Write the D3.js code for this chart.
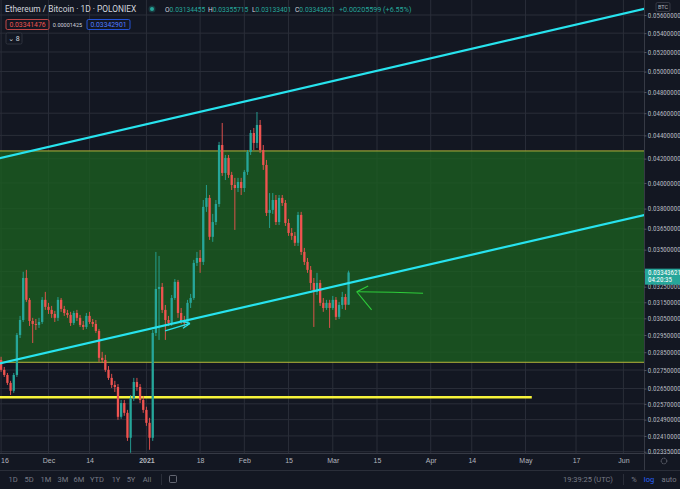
<!DOCTYPE html>
<html><head><meta charset="utf-8">
<script src="https://cdn.jsdelivr.net/npm/d3@7"></script>
<style>
html,body{margin:0;padding:0;background:#131722;overflow:hidden}
svg{display:block;font-family:Roboto,"DejaVu Sans",sans-serif}
</style></head><body>
<svg id="c" width="680" height="489"></svg>
<script>
// ---------- DATA ----------
const firstDay = "2020-11-16";   // daily candles, one per day
const opens  = [0.02806,0.02751,0.02723,0.02680,0.02638,0.02723,0.02950,0.03040,0.03307,0.03165,
0.03034,0.03016,0.03010,0.03028,0.03165,0.03121,0.03102,0.03077,0.03053,0.03165,
0.03108,0.03083,0.03071,0.03022,0.03083,0.03053,0.03010,0.02998,0.03065,0.03028,
0.03016,0.02974,0.02818,0.02806,0.02751,0.02707,0.02669,0.02658,0.02504,0.02574,
0.02524,0.02401,0.02600,0.02685,0.02658,0.02590,0.02539,0.02474,0.02401,0.02962,
0.03235,0.03248,0.03102,0.03040,0.03022,0.03177,0.03281,0.03083,0.03040,0.03022,
0.03146,0.03177,0.03408,0.03442,0.03415,0.03813,0.03882,0.03591,0.03699,0.03835,
0.04316,0.04081,0.04206,0.04065,0.03984,0.03960,0.04008,0.03960,0.04090,0.04256,
0.04421,0.04334,0.04493,0.04273,0.04147,0.03767,0.03790,0.03866,0.03699,0.03882,
0.03843,0.03692,0.03619,0.03598,0.03548,0.03752,0.03484,0.03415,0.03361,0.03274,
0.03216,0.03274,0.03146,0.03114,0.03146,0.03114,0.03165,0.03059,0.03133,0.03183,
0.03134455];
const highs  = [0.02824,0.02767,0.02734,0.02691,0.02734,0.02962,0.03065,0.03348,0.03361,0.03177,
0.03053,0.03046,0.03053,0.03183,0.03216,0.03146,0.03127,0.03096,0.03183,0.03177,
0.03127,0.03102,0.03090,0.03096,0.03102,0.03071,0.03034,0.03083,0.03090,0.03046,
0.03040,0.02986,0.02852,0.02835,0.02772,0.02729,0.02691,0.02674,0.02590,0.02590,
0.02539,0.02616,0.02707,0.02707,0.02674,0.02611,0.02555,0.02499,0.02980,0.03484,
0.03456,0.03274,0.03133,0.03065,0.03196,0.03300,0.03294,0.03114,0.03065,0.03165,
0.03203,0.03429,0.03484,0.03498,0.03866,0.03984,0.03905,0.03760,0.03866,0.04343,
0.04511,0.04231,0.04231,0.04090,0.04041,0.04041,0.04041,0.04106,0.04273,0.04448,
0.04466,0.04611,0.04538,0.04316,0.04189,0.03920,0.03920,0.03905,0.03905,0.03905,
0.03866,0.03722,0.03655,0.03626,0.03775,0.03775,0.03512,0.03442,0.03387,0.03307,
0.03341,0.03294,0.03177,0.03165,0.03165,0.03190,0.03183,0.03152,0.03216,0.03203,
0.03355715];
const lows   = [0.02740,0.02712,0.02669,0.02616,0.02627,0.02712,0.02932,0.03028,0.03152,0.03004,
0.02903,0.02980,0.02992,0.03016,0.03102,0.03077,0.03053,0.03028,0.03034,0.03090,
0.03065,0.03053,0.03004,0.03010,0.03034,0.02998,0.02980,0.02986,0.03016,0.02998,
0.02962,0.02795,0.02789,0.02740,0.02696,0.02653,0.02632,0.02489,0.02494,0.02509,
0.02386,0.02330,0.02585,0.02638,0.02574,0.02524,0.02459,0.02344,0.02386,0.02944,
0.02921,0.03083,0.02921,0.03004,0.03004,0.03165,0.03053,0.03016,0.02998,0.03004,
0.03114,0.03165,0.03387,0.03341,0.03394,0.03775,0.03569,0.03555,0.03677,0.03813,
0.04057,0.04024,0.04041,0.03944,0.03641,0.03928,0.03905,0.03928,0.04065,0.04231,
0.04273,0.04290,0.04247,0.04106,0.03744,0.03655,0.03760,0.03677,0.03677,0.03820,
0.03670,0.03598,0.03569,0.03526,0.03526,0.03463,0.03394,0.03341,0.03229,0.02998,
0.03196,0.03127,0.03090,0.03102,0.02992,0.03102,0.03040,0.03046,0.03108,0.03102,
0.03133401];
const closes = [0.02751,0.02723,0.02680,0.02638,0.02723,0.02950,0.03040,0.03307,0.03165,0.03034,
0.03016,0.03010,0.03028,0.03165,0.03121,0.03102,0.03077,0.03053,0.03165,0.03108,
0.03083,0.03071,0.03022,0.03083,0.03053,0.03010,0.02998,0.03065,0.03028,0.03016,
0.02974,0.02818,0.02806,0.02751,0.02707,0.02669,0.02658,0.02504,0.02574,0.02524,
0.02401,0.02600,0.02685,0.02658,0.02590,0.02539,0.02474,0.02401,0.02962,0.03235,
0.03248,0.03102,0.03040,0.03022,0.03177,0.03281,0.03083,0.03040,0.03022,0.03146,
0.03177,0.03408,0.03442,0.03415,0.03813,0.03882,0.03591,0.03699,0.03835,0.04316,
0.04081,0.04206,0.04065,0.03984,0.03960,0.04008,0.03960,0.04090,0.04256,0.04421,
0.04334,0.04493,0.04273,0.04147,0.03767,0.03790,0.03866,0.03699,0.03882,0.03843,
0.03692,0.03619,0.03598,0.03548,0.03752,0.03484,0.03415,0.03361,0.03274,0.03216,
0.03274,0.03146,0.03114,0.03146,0.03114,0.03165,0.03059,0.03133,0.03183,0.03134455,
0.03343621];

const timeTickDates  = ["2020-11-16","2020-12-01","2020-12-14","2021-01-01","2021-01-18","2021-02-01","2021-02-15","2021-03-01","2021-03-15","2021-04-01","2021-04-14","2021-05-01","2021-05-17","2021-06-01"];
const timeTickLabels = ["16","Dec","14","2021","18","Feb","15","Mar","15","Apr","14","May","17","Jun"];
const priceTicks = [0.056,0.054,0.052,0.050,0.048,0.046,0.044,0.042,0.040,0.038,0.0365,0.035,0.0335,0.0325,0.0315,0.0305,0.0295,0.0285,0.0275,0.0265,0.0257,0.0249,0.0241,0.02335];

// drawings (date, price)
const upperChannel = [["2020-11-16",0.04206],["2021-06-01",0.05615]];
const lowerChannel = [["2020-11-16",0.02789],["2021-06-01",0.03715]];
const zoneTop = 0.04265, zoneBottom = 0.02793;
const supportLine = [["2020-11-01",0.02604],["2021-05-03",0.02604]];
const cyanArrow = [[["2021-01-06T22:00Z",0.02974],["2021-01-14T19:00Z",0.03019]],
                   [["2021-01-14T19:00Z",0.03019],["2021-01-11T14:00Z",0.03036]],
                   [["2021-01-14T19:00Z",0.03019],["2021-01-12T14:00Z",0.02990]]];
const greenArrow = [[["2021-03-08T14:00Z",0.03217],["2021-03-20T00:00Z",0.03214],["2021-03-29T14:00Z",0.03207]],
                    [["2021-03-08T14:00Z",0.03217],["2021-03-12T05:00Z",0.03254]],
                    [["2021-03-08T14:00Z",0.03217],["2021-03-13T07:00Z",0.03102]]];

const header = {title:"Ethereum / Bitcoin · 1D · POLONIEX", O:"0.03134455", H:"0.03355715", L:"0.03133401", C:"0.03343621", chg:"+0.00205599 (+6.55%)"};
const bidAsk = ["0.03341476","0.00001425","0.03342901"];
const lastPrice = 0.03343621, countdown = "04:20:35";
const ranges = ["1D","5D","1M","3M","6M","YTD","1Y","5Y","All"];
const clock = "19:39:25 (UTC)";

// ---------- LAYOUT ----------
const W = 680, H = 489, plotR = 644, plotB = 453, barB = 470;
const UP = "#26a69a", DOWN = "#ef5350", TXT = "#b2b5be", GRID = "#2a2e39";
const NARROW = "'Liberation Sans Narrow','Roboto Condensed',Roboto,sans-serif";
const svg = d3.select("#c");
const x = d3.scaleUtc().domain([new Date("2020-11-16T00:00Z"), new Date("2021-06-01T00:00Z")]).range([1.1, 623.4]);
const y = d3.scaleLog().domain([0.056, 0.02335]).range([15, 451.7]);
const P = d => [x(new Date(d[0])), y(d[1])];

svg.append("rect").attr("width",W).attr("height",H).attr("fill","#131722");
svg.append("defs").append("clipPath").attr("id","clip").append("rect").attr("width",plotR).attr("height",plotB);
const plot = svg.append("g").attr("clip-path","url(#clip)");

// grid
plot.selectAll("line.vg").data(timeTickDates).join("line").attr("class","vg")
  .attr("x1",d=>x(new Date(d))).attr("x2",d=>x(new Date(d))).attr("y1",0).attr("y2",plotB)
  .attr("stroke",GRID).attr("stroke-width",1);
plot.selectAll("line.hg").data(priceTicks).join("line").attr("class","hg")
  .attr("x1",0).attr("x2",plotR).attr("y1",d=>y(d)).attr("y2",d=>y(d))
  .attr("stroke",GRID).attr("stroke-width",1);

// green zone
plot.append("rect").attr("x",-2).attr("width",plotR+4).attr("y",y(zoneTop)).attr("height",y(zoneBottom)-y(zoneTop))
  .attr("fill","#1b5e20").attr("fill-opacity",0.8);
[zoneTop,zoneBottom].forEach(v=>plot.append("line").attr("x1",0).attr("x2",plotR).attr("y1",y(v)).attr("y2",y(v))
  .attr("stroke","#b5b43a").attr("stroke-width",1));

// support line
plot.append("line").attr("x1",P(supportLine[0])[0]).attr("x2",P(supportLine[1])[0])
  .attr("y1",P(supportLine[0])[1]).attr("y2",P(supportLine[1])[1])
  .attr("stroke","#f7f43a").attr("stroke-width",2.6);

// channel lines (extended across the pane)
function extLine(a){
  const p0=P(a[0]), p1=P(a[1]); const k=(p1[1]-p0[1])/(p1[0]-p0[0]);
  const xa=-5, xb=plotR+5;
  plot.append("line").attr("x1",xa).attr("y1",p0[1]+k*(xa-p0[0])).attr("x2",xb).attr("y2",p0[1]+k*(xb-p0[0]))
    .attr("stroke","#27e3ee").attr("stroke-width",2.2);
}

// candles
const days = d3.utcDay.range(new Date(firstDay+"T00:00Z"), d3.utcDay.offset(new Date(firstDay+"T00:00Z"), closes.length));
const candles = days.map((d,i)=>({d,o:opens[i],h:highs[i],l:lows[i],c:closes[i]}));
const cg = plot.append("g");
cg.selectAll("line").data(candles).join("line")
  .attr("x1",d=>x(d.d)).attr("x2",d=>x(d.d)).attr("y1",d=>y(d.h)).attr("y2",d=>y(d.l))
  .attr("stroke",d=>d.c>=d.o?UP:DOWN).attr("stroke-width",0.9);
cg.selectAll("rect").data(candles).join("rect")
  .attr("x",d=>x(d.d)-1.15).attr("width",2.3)
  .attr("y",d=>y(Math.max(d.o,d.c))).attr("height",d=>Math.max(0.8,Math.abs(y(d.o)-y(d.c))))
  .attr("fill",d=>d.c>=d.o?UP:DOWN);

extLine(upperChannel); extLine(lowerChannel);

// hand-drawn arrows
const ln = d3.line().x(d=>P(d)[0]).y(d=>P(d)[1]);
cyanArrow.forEach(s=>plot.append("path").attr("d",ln(s)).attr("fill","none").attr("stroke","#27e3ee").attr("stroke-width",1.2));
greenArrow.forEach(s=>plot.append("path").attr("d",ln(s)).attr("fill","none").attr("stroke","#2ecc3a").attr("stroke-width",1.1));

// ---------- AXES ----------
svg.append("line").attr("x1",plotR+0.5).attr("x2",plotR+0.5).attr("y1",0).attr("y2",barB).attr("stroke","#363a45");
svg.append("line").attr("x1",0).attr("x2",W).attr("y1",plotB+0.5).attr("y2",plotB+0.5).attr("stroke","#363a45");
svg.append("line").attr("x1",0).attr("x2",W).attr("y1",barB+0.5).attr("y2",barB+0.5).attr("stroke","#2a2e39");

const ya = svg.append("g").attr("transform",`translate(${plotR},0)`)
  .call(d3.axisRight(y).tickValues(priceTicks).tickFormat(d3.format(".8f")).tickSize(2.5).tickPadding(1.2));
ya.select(".domain").remove();
ya.selectAll("line").attr("stroke","#50535e");
ya.selectAll("text").attr("fill",TXT).attr("font-size",7).attr("font-family",NARROW);

const xa = svg.append("g").attr("transform",`translate(0,${plotB})`)
  .call(d3.axisBottom(x).tickValues(timeTickDates.map(d=>new Date(d+"T00:00Z"))).tickFormat((d,i)=>timeTickLabels[i]).tickSize(0).tickPadding(5));
xa.select(".domain").remove();
xa.selectAll("text").attr("fill",TXT).attr("font-size",7).attr("font-weight",(d,i)=>timeTickLabels[i]==="2021"?"bold":"normal");
// first label sits on the left edge: keep it inside the picture
xa.selectAll("text").filter((d,i)=>i===0).attr("text-anchor","start").attr("x",-0.6);

// BTC unit label
svg.append("rect").attr("x",656).attr("y",2.5).attr("width",14).attr("height",9).attr("rx",1.5).attr("fill","#131722").attr("stroke","#434651").attr("stroke-width",0.7);
svg.append("text").attr("x",663).attr("y",9.2).attr("text-anchor","middle").attr("font-size",5.5).attr("fill",TXT).text("BTC");

// last price label
const ly = y(lastPrice);
svg.append("rect").attr("x",plotR+1).attr("y",ly-3.8).attr("width",W-plotR).attr("height",16).attr("fill",UP);
svg.append("text").attr("x",648).attr("y",ly+2.3).attr("font-size",7).attr("font-family",NARROW).attr("fill","#fff").text(d3.format(".8f")(lastPrice));
svg.append("text").attr("x",648).attr("y",ly+9.8).attr("font-size",7).attr("font-family",NARROW).attr("fill","#fff").text(countdown);

// gear icon
svg.append("circle").attr("cx",664).attr("cy",461).attr("r",2.8).attr("fill","none").attr("stroke","#787b86").attr("stroke-width",0.9).attr("stroke-dasharray","1.2 0.6");

// ---------- HEADER ----------
const hf = "Roboto,sans-serif";
svg.append("text").attr("x",5).attr("y",12).attr("font-size",8.4).attr("fill","#d1d4dc").attr("font-family",hf).text(header.title);
svg.append("circle").attr("cx",152).attr("cy",9).attr("r",3.5).attr("fill",UP).attr("fill-opacity",0.25);
svg.append("circle").attr("cx",152).attr("cy",9).attr("r",2).attr("fill",UP);
[["O",165,header.O],["H",208,header.H],["L",252,header.L],["C",295,header.C]].forEach(([k,px,v])=>{
  const t=svg.append("text").attr("x",px).attr("y",12).attr("font-size",6.7).attr("font-family",hf);
  t.append("tspan").attr("fill","#d1d4dc").text(k);
  t.append("tspan").attr("fill",UP).text(v);
});
svg.append("text").attr("x",339).attr("y",12).attr("font-size",7.2).attr("fill",UP).attr("font-family",hf).text(header.chg);

// bid / spread / ask
svg.append("rect").attr("x",6).attr("y",19.5).attr("width",43).attr("height",10).attr("rx",1.5).attr("fill","#131722").attr("stroke",DOWN).attr("stroke-width",0.8);
svg.append("text").attr("x",27.5).attr("y",27).attr("text-anchor","middle").attr("font-size",6.8).attr("fill",DOWN).text(bidAsk[0]);
svg.append("text").attr("x",67.5).attr("y",26.8).attr("text-anchor","middle").attr("font-size",5.5).attr("fill","#d1d4dc").text(bidAsk[1]);
svg.append("rect").attr("x",87).attr("y",19.5).attr("width",43).attr("height",10).attr("rx",1.5).attr("fill","#131722").attr("stroke","#2962ff").attr("stroke-width",0.8);
svg.append("text").attr("x",108.5).attr("y",27).attr("text-anchor","middle").attr("font-size",6.8).attr("fill","#4f7cff").text(bidAsk[2]);
svg.append("rect").attr("x",6).attr("y",33).attr("width",16).attr("height",11).attr("rx",1.5).attr("fill","#131722").attr("stroke","#363a45").attr("stroke-width",0.8);
svg.append("text").attr("x",14).attr("y",41).attr("text-anchor","middle").attr("font-size",7).attr("fill","#d1d4dc").text("⌄ 8");

// ---------- BOTTOM TOOLBAR ----------
const rx = [13,29,46,63,79,97,116,131,147];
ranges.forEach((r,i)=>svg.append("text").attr("x",rx[i]).attr("y",482).attr("text-anchor","middle").attr("font-size",7.5).attr("fill","#787b86").text(r));
svg.append("line").attr("x1",161.5).attr("x2",161.5).attr("y1",474).attr("y2",485).attr("stroke","#2a2e39");
svg.append("rect").attr("x",169.5).attr("y",475.5).attr("width",7).attr("height",7).attr("rx",1).attr("fill","none").attr("stroke","#787b86").attr("stroke-width",0.8);
svg.append("text").attr("x",588).attr("y",482).attr("text-anchor","middle").attr("font-size",7.5).attr("fill","#787b86").text(clock);
svg.append("line").attr("x1",623.5).attr("x2",623.5).attr("y1",474).attr("y2",485).attr("stroke","#2a2e39");
svg.append("text").attr("x",634).attr("y",482).attr("text-anchor","middle").attr("font-size",7.5).attr("fill","#787b86").text("%");
svg.append("text").attr("x",649).attr("y",482).attr("text-anchor","middle").attr("font-size",7.5).attr("fill","#2962ff").text("log");
svg.append("text").attr("x",669).attr("y",482).attr("text-anchor","middle").attr("font-size",7.5).attr("fill","#787b86").text("auto");
</script></body></html>
